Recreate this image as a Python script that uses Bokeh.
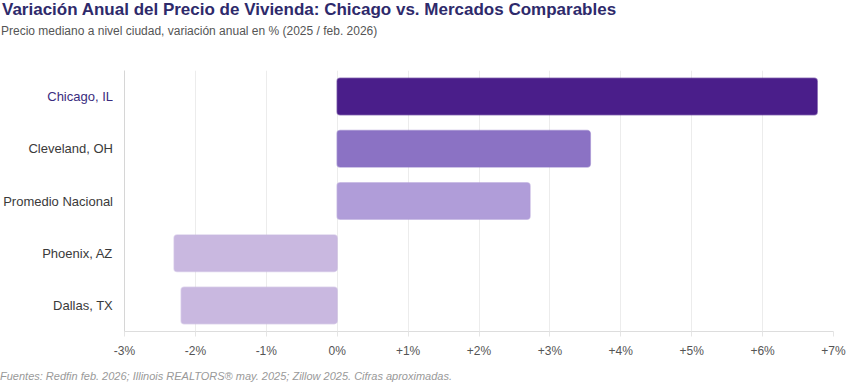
from bokeh.plotting import figure
from bokeh.models import ColumnDataSource, Range1d, FixedTicker, FactorRange, Div
from bokeh.layouts import column, row
from bokeh.core.properties import value
from bokeh.embed import file_html
from bokeh.resources import INLINE

markets = ["Chicago, IL", "Cleveland, OH", "Promedio Nacional", "Phoenix, AZ", "Dallas, TX"]
yoy_change = [6.77, 3.57, 2.72, -2.3, -2.2]
bar_colors = ["#4a1e8a", "#8b72c4", "#b09dd9", "#c9b8e0", "#c9b8e0"]
label_colors = ["#3a2c7e", "#3a3a3a", "#3a3a3a", "#3a3a3a", "#3a3a3a"]
x_ticks = [-3, -2, -1, 0, 1, 2, 3, 4, 5, 6, 7]
x_tick_labels = ["-3%", "-2%", "-1%", "0%", "+1%", "+2%", "+3%", "+4%", "+5%", "+6%", "+7%"]

title_text = "Variación Anual del Precio de Vivienda: Chicago vs. Mercados Comparables"
subtitle_text = "Precio mediano a nivel ciudad, variación anual en % (2025 / feb. 2026)"
footnote_text = "Fuentes: Redfin feb. 2026; Illinois REALTORS® may. 2025; Zillow 2025. Cifras aproximadas."

FONT = "Liberation Sans"
LABEL_W = 113
ROW_H = 326

yr = FactorRange(factors=list(reversed(markets)))
src = ColumnDataSource(dict(market=markets, val=yoy_change, color=bar_colors,
                            lcolor=label_colors, xlab=[LABEL_W - 0.5] * len(markets)))

# category label strip (shares the y range with the chart)
lf = figure(width=LABEL_W, height=ROW_H, y_range=yr, x_range=Range1d(0, LABEL_W),
            x_axis_type=None, y_axis_type=None, output_backend="svg", toolbar_location=None,
            min_border_left=0, min_border_right=0, min_border_top=26, min_border_bottom=39)
lf.outline_line_color = None
lf.grid.grid_line_color = None
lf.text(x="xlab", y="market", text="market", text_color="lcolor", text_align="right",
        text_baseline="middle", text_font=value(FONT), text_font_size="13px", source=src)

# main chart
p = figure(width=848 - LABEL_W, height=ROW_H, y_range=yr, x_range=Range1d(-3, 7),
           output_backend="svg", toolbar_location=None,
           min_border_left=11, min_border_right=15, min_border_top=26, min_border_bottom=39)
p.outline_line_color = None

p.hbar(y="market", left=0, right="val", height=0.7, fill_color="color",
       line_color="color", line_alpha=0.55, line_width=1.5, border_radius=3, source=src)

p.xaxis.ticker = FixedTicker(ticks=x_ticks)
p.xaxis.major_label_overrides = {t: l for t, l in zip(x_ticks, x_tick_labels)}
p.xaxis.major_label_text_font = FONT
p.xaxis.major_label_text_font_size = "12px"
p.xaxis.major_label_text_color = "#555555"
p.xaxis.axis_line_color = "#dddddd"
p.xaxis.major_tick_line_color = "#e5e5e5"
p.xaxis.major_tick_out = 5
p.xaxis.major_tick_in = 0
p.xaxis.minor_tick_line_color = None
p.xaxis.major_label_standoff = 7

p.yaxis.ticker = FixedTicker(ticks=[])
p.yaxis.major_tick_line_color = None
p.yaxis.minor_tick_line_color = None
p.yaxis.major_tick_out = 0
p.yaxis.major_label_standoff = 0
p.yaxis.axis_line_color = "#d6d6d6"

p.xgrid.grid_line_color = "#ececec"
p.ygrid.grid_line_color = None

title_div = Div(text=title_text, width=848, height=24, margin=(0, 0, 0, 2),
                styles={"font-family": FONT, "font-size": "17px", "font-weight": "bold",
                        "color": "#2e2a6b", "line-height": "20px", "white-space": "nowrap"})
sub_div = Div(text=subtitle_text, width=848, height=20, margin=(0, 0, 0, 1),
              styles={"font-family": FONT, "font-size": "12px", "color": "#555555",
                      "line-height": "14px", "white-space": "nowrap"})
foot_div = Div(text=footnote_text, width=848, height=12, margin=(0, 0, 0, 0),
               styles={"font-family": FONT, "font-size": "11px", "font-style": "italic",
                       "color": "#999999", "line-height": "13px", "white-space": "nowrap"})

layout = column(title_div, sub_div, row(lf, p, spacing=0), foot_div, spacing=0)

html = file_html(layout, INLINE)
html = html.replace("<head>", "<head><style>body{margin:0;overflow:hidden;}</style>", 1)
open("out.html", "w").write(html)
